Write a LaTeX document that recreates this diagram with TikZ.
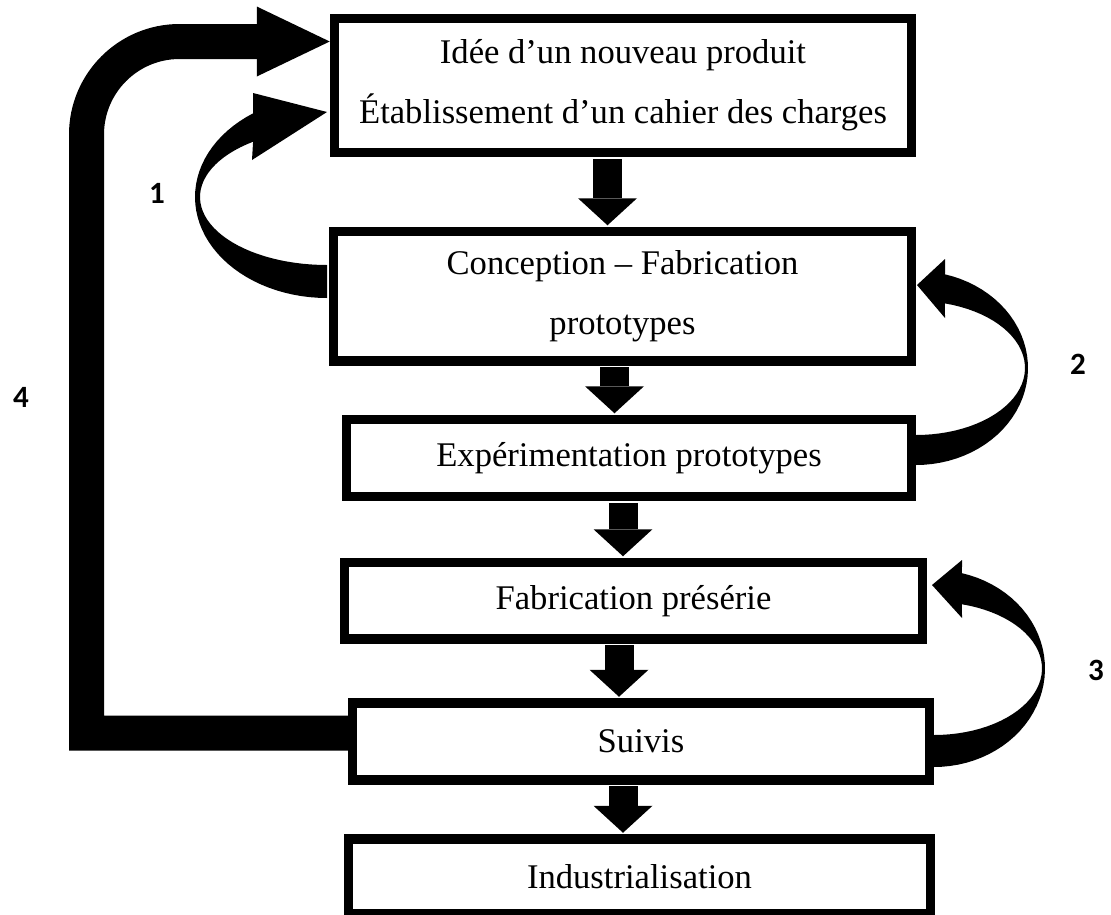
\documentclass[tikz,border=0pt]{standalone}
\usepackage{fontspec}
\setmainfont{Liberation Serif}
\newfontfamily\numfont{Carlito}
\usetikzlibrary{arrows.meta}

\begin{document}
\begin{tikzpicture}[x=1pt,y=-1pt,
    stage/.style={draw,line width=9.5pt,align=center,inner sep=0pt,
      font=\fontsize{34.6}{60}\selectfont},
    num/.style={font=\numfont\bfseries\fontsize{31}{36}\selectfont},
    downarrow/.style={line width=29pt,shorten <=1.5pt,shorten >=1.5pt,
      -{Triangle[length=27pt,width=59pt,line width=0pt]}},
    bigarrow/.style={line width=35pt,
      -{Triangle[length=73pt,width=70pt,line width=0pt]}}]
      \useasboundingbox (0,0) rectangle (1111,914);
      % the six steps
      \node[stage,minimum width=577pt,minimum height=134pt] (b1) at (623,85.5)
        {Idée d’un nouveau produit\\Établissement d’un cahier des charges};
      \node[stage,minimum width=578pt,minimum height=129.5pt] (b2) at (622.5,296.25)
        {Conception -- Fabrication\\prototypes};
      \node[stage,minimum width=565pt,minimum height=77pt] (b3) at (629,458)
        {Expérimentation prototypes};
      \node[stage,minimum width=578pt,minimum height=76.5pt] (b4) at (633.5,600.75)
        {Fabrication présérie};
      \node[stage,minimum width=577pt,minimum height=77pt] (b5) at (641,741.5)
        {Suivis};
      \node[stage,minimum width=582pt,minimum height=75pt] (b6) at (639.5,876.5)
        {Industrialisation};
      % straight arrows
      \draw[downarrow] (607.5,0 |- b1.south) -- (607.5,0 |- b2.north);
      \draw[downarrow] (614.5,0 |- b2.south) -- (614.5,0 |- b3.north);
      \draw[downarrow] (623,0 |- b3.south) -- (623,0 |- b4.north);
      \draw[downarrow] (619,0 |- b4.south) -- (619,0 |- b5.north);
      \draw[downarrow] (623,0 |- b5.south) -- (623,0 |- b6.north);
      % loop 4
      \draw[bigarrow] ([yshift=8.5pt]b5.west) -| (86.5,134.5)
        arc[start angle=180,end angle=90,radius=93pt] -- ([yshift=44pt]b1.west);
      % loops 1, 2 and 3
      \fill (327,298) -- plot[domain=90:235.9,samples=40] ({327+132*cos(\x)},{197+101*sin(\x)})
        -- (253,93) -- (327,112) -- (252,160)
        -- plot[domain=234.4:90,samples=40] ({327+127*cos(\x)},{197+68*sin(\x)}) -- cycle;
      \fill (916,465) -- plot[domain=90:-75,samples=40] ({916+112*cos(\x)},{368+97*sin(\x)})
        -- (945,259) -- (917,285) -- (945,318)
        -- plot[domain=-74.6:90,samples=40] ({916+109*cos(\x)},{368+67*sin(\x)}) -- cycle;
      \fill (934,767) -- plot[domain=90:-75.4,samples=40] ({934+111*cos(\x)},{668.5+98.5*sin(\x)})
        -- (962,560) -- (932,585) -- (962,618)
        -- plot[domain=-75:90,samples=40] ({934+108*cos(\x)},{668.5+66.5*sin(\x)}) -- cycle;
      \node[num] (n1) at (157,193) {1};
      \node[num] (n2) at (1078,364) {2};
      \node[num] (n3) at (1096,670) {3};
      \node[num] (n4) at (21,397) {4};
    \end{tikzpicture}
\end{document}
